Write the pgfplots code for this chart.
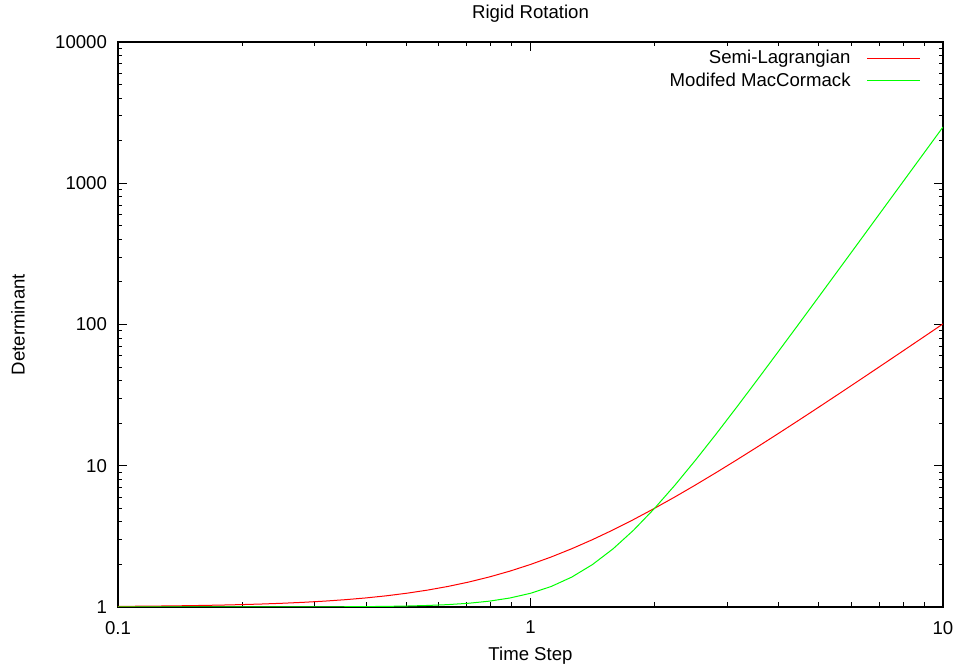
\documentclass[border=0pt]{standalone}
\usepackage{fontspec}
\setmainfont{Liberation Sans}
\usepackage{pgfplots}
\pgfplotsset{compat=1.18}

% curve samples: t, Semi-Lagrangian, Modified MacCormack
\pgfplotstableread{
t        sl        mc
0.10000  1.010000  1.000025
0.11220  1.012589  1.000040
0.12589  1.015849  1.000063
0.14125  1.019953  1.000100
0.15849  1.025119  1.000158
0.17783  1.031623  1.000250
0.19953  1.039811  1.000396
0.22387  1.050119  1.000628
0.25119  1.063096  1.000995
0.28184  1.079433  1.001577
0.31623  1.100000  1.002500
0.35481  1.125890  1.003962
0.39811  1.158490  1.006280
0.44668  1.199530  1.009953
0.50119  1.251190  1.015774
0.56234  1.316230  1.025000
0.63096  1.398110  1.039623
0.70795  1.501190  1.062797
0.79433  1.630960  1.099527
0.89125  1.794330  1.157740
1.00000  2.000000  1.250000
1.12202  2.258930  1.396223
1.25893  2.584890  1.627973
1.41254  2.995260  1.995268
1.58489  3.511890  2.577393
1.77828  4.162280  3.500000
1.99526  4.981070  4.962225
2.23872  6.011870  7.279725
2.51189  7.309570  10.952675
2.81838  8.943280  16.773925
3.16228  11.000000 26.000000
3.54813  13.589300 40.622250
3.98107  16.848900 63.797250
4.46684  20.952600 100.526750
5.01187  26.118900 158.739250
5.62341  32.622800 251.000000
6.30957  40.810700 397.222500
7.07946  51.118700 628.972500
7.94328  64.095700 996.267500
8.91251  80.432800 1578.392500
10.00000 101.000000 2501.000000
}\curves

\begin{document}
\begin{tikzpicture}
\begin{loglogaxis}[
    name=ax,
    scale only axis,
    width=412.5pt,
    height=282.5pt,
    xmin=0.1, xmax=10,
    ymin=1, ymax=10000,
    font=\fontsize{9.3}{11}\selectfont,
    xtick={0.1,1,10},
    xticklabels={0.1,1,10},
    ytick={1,10,100,1000,10000},
    yticklabels={1,10,100,1000,10000},
    minor xtick={0.2,0.3,0.4,0.5,0.6,0.7,0.8,0.9,2,3,4,5,6,7,8,9},
    minor ytick={2,3,4,5,6,7,8,9,20,30,40,50,60,70,80,90,200,300,400,500,600,700,800,900,2000,3000,4000,5000,6000,7000,8000,9000},
    xticklabel style={yshift=-3.5pt},
    yticklabel style={xshift=-2pt},
    tick pos=both,
    tick align=inside,
    major tick length=4.5pt,
    minor tick length=2.25pt,
    every tick/.style={black, line width=0.5pt},
    axis line style={line width=0.6pt},
    every axis title shift=0pt,
    title={Rigid Rotation},
    title style={at={(axis description cs:0.5,1.0496)}, anchor=center},
    xlabel={Time Step},
    xlabel style={at={(axis description cs:0.5,-0.087)}, anchor=center},
    ylabel={Determinant},
    ylabel style={at={(axis description cs:-0.1212,0.5)}, anchor=center, rotate=0},
    legend style={draw=none, fill=none, at={(rel axis cs:0.9806,1.0006)}, anchor=north east,
        font=\fontsize{9.3}{11}\selectfont, row sep=-1pt},
    legend cell align=right,
    legend plot pos=right,
    legend image code/.code={\path (0pt,0pt); \draw[#1] (6pt,0pt) -- (32.5pt,0pt);},
]
\addplot[color={rgb,255:red,255;green,0;blue,0}, line width=0.5pt] table[x=t, y=sl] {\curves};
\addlegendentry{Semi-Lagrangian}
\addplot[color={rgb,255:red,0;green,255;blue,0}, line width=0.5pt] table[x=t, y=mc] {\curves};
\addlegendentry{Modifed MacCormack}
\end{loglogaxis}
\pgfresetboundingbox
\path[use as bounding box] ([xshift=-59pt, yshift=-28.5pt]ax.south west) rectangle ([xshift=7pt, yshift=21pt]ax.north east);
\end{tikzpicture}
\end{document}
